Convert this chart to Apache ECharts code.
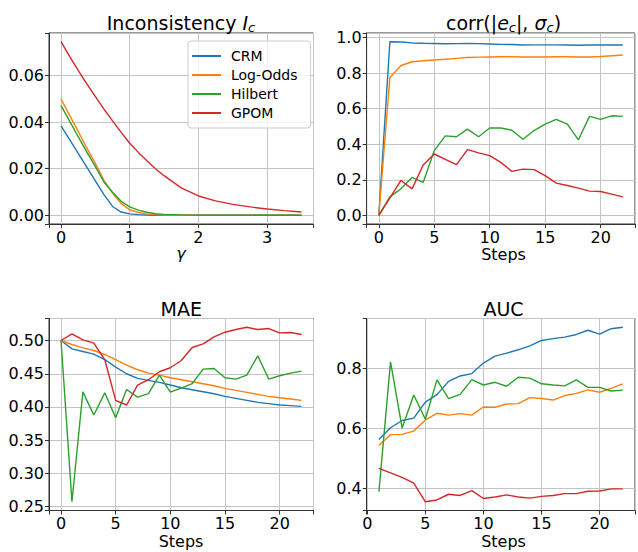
<!DOCTYPE html>
<html><head><meta charset="utf-8">
<script src="https://cdn.jsdelivr.net/npm/echarts@6/dist/echarts.min.js"></script>
<style>html,body{margin:0;padding:0;background:#fff}#c{width:638px;height:552px}</style>
</head><body><div id="c"></div>
<script>
const FONT = 'DejaVu Sans';
const seriesNames = ['CRM', 'Log-Odds', 'Hilbert', 'GPOM'];
const colors = ['#1f77b4', '#ff7f0e', '#2ca02c', '#d62728'];

// Panel 1: Inconsistency I_c vs gamma
const gamma = [0, 0.125, 0.25, 0.375, 0.5, 0.625, 0.75, 0.875, 1.0, 1.125, 1.25, 1.375, 1.5, 1.75, 2.0, 2.25, 2.5, 2.75, 3.0, 3.25, 3.5];
const icCRM     = [0.0384, 0.0325, 0.0266, 0.0207, 0.0148, 0.0089, 0.0038, 0.0014, 0.0006, 0.0003, 0.0001, 0.00005, 0, 0, 0, 0, 0, 0, 0, 0, 0];
const icLogOdds = [0.0499, 0.0429, 0.0360, 0.0289, 0.0222, 0.0150, 0.0095, 0.0050, 0.0024, 0.0012, 0.0006, 0.0003, 0.0001, 0.00005, 0, 0, 0, 0, 0, 0, 0];
const icHilbert = [0.0471, 0.0404, 0.0338, 0.0272, 0.0209, 0.0143, 0.0099, 0.0060, 0.0036, 0.0022, 0.0013, 0.0007, 0.0004, 0.0002, 0.0001, 0.00005, 0, 0, 0, 0, 0];
const icGPOM    = [0.0745, 0.0682, 0.0622, 0.0564, 0.0509, 0.0456, 0.0405, 0.0356, 0.0309, 0.0270, 0.0234, 0.0200, 0.0170, 0.0118, 0.0083, 0.0062, 0.0047, 0.0036, 0.0027, 0.0020, 0.0014];

// Panel 2: corr(|e_c|, sigma_c) vs steps
const steps = [0, 1, 2, 3, 4, 5, 6, 7, 8, 9, 10, 11, 12, 13, 14, 15, 16, 17, 18, 19, 20, 21, 22];
const corrCRM     = [0, 0.977, 0.975, 0.970, 0.968, 0.967, 0.965, 0.966, 0.967, 0.966, 0.964, 0.962, 0.961, 0.958, 0.959, 0.959, 0.959, 0.958, 0.957, 0.958, 0.958, 0.958, 0.958];
const corrLogOdds = [0, 0.775, 0.843, 0.864, 0.870, 0.874, 0.878, 0.883, 0.888, 0.890, 0.891, 0.892, 0.892, 0.891, 0.891, 0.891, 0.892, 0.892, 0.891, 0.891, 0.894, 0.898, 0.902];
const corrHilbert = [0, 0.104, 0.149, 0.213, 0.185, 0.364, 0.447, 0.442, 0.485, 0.442, 0.491, 0.491, 0.479, 0.428, 0.477, 0.513, 0.540, 0.513, 0.425, 0.557, 0.540, 0.560, 0.557];
const corrGPOM    = [0, 0.098, 0.196, 0.149, 0.283, 0.345, 0.315, 0.285, 0.370, 0.351, 0.336, 0.298, 0.247, 0.260, 0.257, 0.223, 0.181, 0.168, 0.153, 0.136, 0.134, 0.119, 0.104];

// Panel 3: MAE vs steps
const maeCRM     = [0.500, 0.4875, 0.4835, 0.4795, 0.4714, 0.460, 0.450, 0.443, 0.440, 0.437, 0.433, 0.429, 0.426, 0.423, 0.420, 0.416, 0.413, 0.410, 0.407, 0.405, 0.403, 0.402, 0.401];
const maeLogOdds = [0.500, 0.494, 0.489, 0.485, 0.479, 0.4714, 0.463, 0.456, 0.451, 0.448, 0.444, 0.441, 0.438, 0.435, 0.432, 0.428, 0.425, 0.422, 0.419, 0.416, 0.414, 0.412, 0.410];
const maeHilbert = [0.500, 0.2574, 0.4228, 0.388, 0.4213, 0.384, 0.4263, 0.4148, 0.420, 0.448, 0.4223, 0.4283, 0.435, 0.457, 0.458, 0.444, 0.442, 0.448, 0.477, 0.442, 0.447, 0.451, 0.454];
const maeGPOM    = [0.500, 0.510, 0.501, 0.496, 0.4714, 0.410, 0.403, 0.433, 0.441, 0.453, 0.459, 0.470, 0.4895, 0.495, 0.5055, 0.5125, 0.5165, 0.520, 0.5165, 0.518, 0.5115, 0.512, 0.509];

// Panel 4: AUC vs steps
const aucSteps = [1, 2, 3, 4, 5, 6, 7, 8, 9, 10, 11, 12, 13, 14, 15, 16, 17, 18, 19, 20, 21, 22];
const aucCRM     = [0.563, 0.602, 0.626, 0.634, 0.687, 0.712, 0.756, 0.774, 0.782, 0.817, 0.840, 0.850, 0.861, 0.874, 0.892, 0.898, 0.903, 0.912, 0.926, 0.913, 0.931, 0.936];
const aucLogOdds = [0.543, 0.579, 0.580, 0.591, 0.628, 0.650, 0.644, 0.649, 0.644, 0.671, 0.670, 0.681, 0.682, 0.702, 0.699, 0.694, 0.709, 0.716, 0.728, 0.720, 0.733, 0.748];
const aucHilbert = [0.389, 0.821, 0.601, 0.711, 0.630, 0.761, 0.699, 0.713, 0.762, 0.744, 0.753, 0.740, 0.770, 0.767, 0.748, 0.744, 0.741, 0.761, 0.736, 0.736, 0.724, 0.727];
const aucGPOM    = [0.467, 0.452, 0.437, 0.418, 0.356, 0.362, 0.381, 0.377, 0.393, 0.367, 0.372, 0.379, 0.372, 0.368, 0.374, 0.377, 0.383, 0.383, 0.391, 0.392, 0.399, 0.399];

// Tick labels
const gammaTickLabels = ['0', '1', '2', '3'];
const stepTickLabels = ['0', '5', '10', '15', '20'];
const icTickLabels = ['0.00', '0.02', '0.04', '0.06'];
const corrTickLabels = ['0.0', '0.2', '0.4', '0.6', '0.8', '1.0'];
const maeTickLabels = ['0.25', '0.30', '0.35', '0.40', '0.45', '0.50'];
const aucTickLabels = ['0.4', '0.6', '0.8'];

const panels = [
  { x: gamma, ys: [icCRM, icLogOdds, icHilbert, icGPOM], xl: gammaTickLabels, yl: icTickLabels },
  { x: steps, ys: [corrCRM, corrLogOdds, corrHilbert, corrGPOM], xl: stepTickLabels, yl: corrTickLabels },
  { x: steps, ys: [maeCRM, maeLogOdds, maeHilbert, maeGPOM], xl: stepTickLabels, yl: maeTickLabels },
  { x: aucSteps, ys: [aucCRM, aucLogOdds, aucHilbert, aucGPOM], xl: stepTickLabels, yl: aucTickLabels }
];

const gridRects = [
  { left: 49, top: 33, width: 264.5, height: 191 },
  { left: 366.6, top: 33, width: 274, height: 191 },
  { left: 49, top: 318.5, width: 264.5, height: 192 },
  { left: 366.7, top: 318.5, width: 274, height: 192 }
];

function padded(arrs) {
  const all = [].concat(...arrs);
  const mn = Math.min(...all), mx = Math.max(...all);
  const p = (mx - mn) * 0.05;
  return [mn - p, mx + p];
}

function makeAxis(kind, gi, range, labels) {
  const step = +(parseFloat(labels[1]) - parseFloat(labels[0])).toFixed(8);
  const dec = (labels[0].split('.')[1] || '').length;
  return {
    type: 'value', gridIndex: gi, min: range[0], max: range[1],
    minInterval: step, maxInterval: step, splitNumber: labels.length,
    axisLine: { show: true, onZero: false, lineStyle: { color: '#333', width: 1 } },
    axisTick: { show: true, inside: false, length: 4, lineStyle: { color: '#333', width: 1 } },
    axisLabel: {
      show: true, fontFamily: FONT, fontSize: 16, color: '#000', margin: 5,
      showMinLabel: true, showMaxLabel: true, hideOverlap: false,
      formatter: function (v) {
        const s = v.toFixed(dec);
        return (labels.indexOf(s) >= 0 && Math.abs(parseFloat(s) - v) < 1e-9) ? s : '';
      }
    },
    splitLine: { show: true, lineStyle: { color: '#c4c4c4', width: 1 } }
  };
}

const grid = gridRects.map(r => Object.assign({ show: true, borderColor: '#333', borderWidth: 1, backgroundColor: 'rgba(0,0,0,0)' }, r));
const xAxis = panels.map((p, i) => makeAxis('x', i, padded([p.x]), p.xl));
const yAxis = panels.map((p, i) => makeAxis('y', i, padded(p.ys), p.yl));

const series = [];
panels.forEach((p, gi) => {
  p.ys.forEach((ys, si) => {
    series.push({
      name: seriesNames[si], type: 'line', xAxisIndex: gi, yAxisIndex: gi,
      data: p.x.map((xv, k) => [xv, ys[k]]),
      symbol: 'none', showSymbol: false, smooth: false,
      lineStyle: { color: colors[si], width: 1.4 }, itemStyle: { color: colors[si] },
      emphasis: { disabled: true }, animation: false, clip: true
    });
  });
});

const titleRich = {
  it: { fontFamily: FONT, fontSize: 19, fontStyle: 'italic', fill: '#000' },
  sub: { fontFamily: FONT, fontSize: 13, fontStyle: 'italic', fill: '#000', verticalAlign: 'bottom', lineHeight: 13, padding: [9, 0, 0, 0] }
};
function titleText(x, y, text) {
  return { type: 'text', x: x, y: y, z: 100, style: { text: text, rich: titleRich, fontFamily: FONT, fontSize: 19, fill: '#000', align: 'center', verticalAlign: 'middle', lineHeight: 22 } };
}
function axisNameText(x, y, text, italic) {
  return { type: 'text', x: x, y: y, z: 100, style: { text: text, fontFamily: FONT, fontSize: 16, fontStyle: italic ? 'italic' : 'normal', fill: '#000', align: 'center', verticalAlign: 'middle' } };
}

const option = {
  animation: false,
  backgroundColor: '#ffffff',
  grid: grid, xAxis: xAxis, yAxis: yAxis, series: series,
  legend: {
    data: seriesNames, orient: 'vertical', left: 188, top: 41,
    itemWidth: 29, itemHeight: 2, icon: 'rect', itemGap: 3,
    textStyle: { fontFamily: FONT, fontSize: 14, color: '#000', lineHeight: 16, padding: [0, 0, 0, 5] },
    backgroundColor: 'rgba(255,255,255,0.8)', borderColor: '#cccccc', borderWidth: 1, borderRadius: 3,
    padding: [7, 13, 7, 4], selectedMode: false
  },
  graphic: [
    titleText(181, 23, 'Inconsistency {it|I}{sub|c}'),
    titleText(503.5, 23, 'corr(|{it|e}{sub|c}|, {it|σ}{sub|c})'),
    titleText(181.3, 308.5, 'MAE'),
    titleText(503.5, 308.5, 'AUC'),
    axisNameText(181, 253, 'γ', true),
    axisNameText(503.5, 254, 'Steps', false),
    axisNameText(181, 541, 'Steps', false),
    axisNameText(503.5, 541, 'Steps', false)
  ]
};

const chart = echarts.init(document.getElementById('c'), null, { renderer: 'svg', width: 638, height: 552 });
chart.setOption(option);
</script>
</body></html>
